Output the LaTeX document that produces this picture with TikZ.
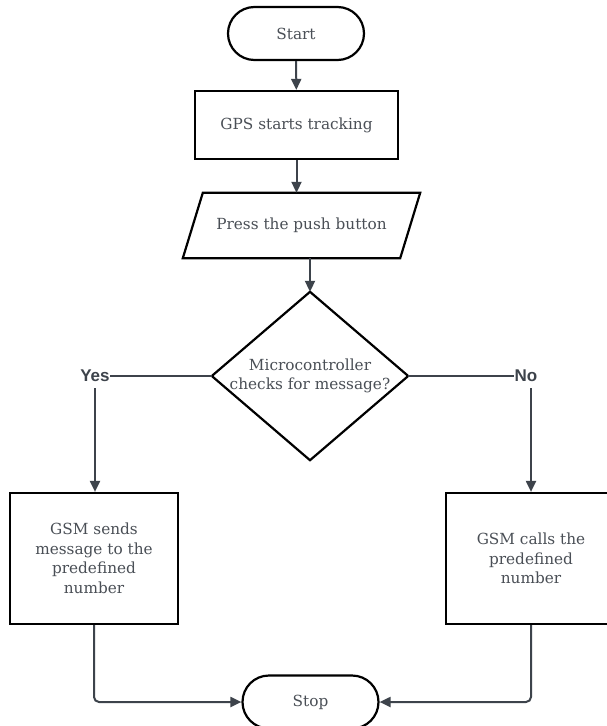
\documentclass[tikz,border=0pt]{standalone}
\usepackage{fontspec}
\setmainfont{DejaVu Serif}
\newfontfamily\labelfont{Liberation Sans}
\usetikzlibrary{arrows.meta,shapes.geometric,shapes.misc,calc}
\definecolor{txt}{HTML}{4A4F56}
\definecolor{conn}{HTML}{3D434B}
\tikzset{
  base/.style={font=\fontsize{15.3}{19.5}\selectfont, text=txt, align=center, inner sep=0pt},
  term/.style={base, draw=black, line width=2.2pt, rounded rectangle, minimum width=136pt, minimum height=53pt},
  procbox/.style={base, draw=black, line width=2.2pt, rectangle},
  outline/.style={draw=black, line width=2.2pt, line join=miter},
  lbl/.style={font=\labelfont\bfseries\fontsize{17}{19}\selectfont, text=conn, inner sep=0pt},
  conn/.style={draw=conn, line width=2pt},
  arr/.style={conn, -{Triangle[length=11pt,width=10pt]}}
}
\begin{document}
\begin{tikzpicture}[x=1pt,y=-1pt]
\useasboundingbox (0,0) rectangle (607,726);
\clip (0,0) rectangle (607,726);
\fill[white] (0,0) rectangle (607,726);

\node[term] (start) at (296,33.5) {Start};
\node[procbox, minimum width=203pt, minimum height=68pt] (gps) at (296.5,125) {GPS starts tracking};
\node[base, minimum width=197pt, minimum height=65pt] (para) at (301.5,225.5) {Press the push button};
\draw[outline]
  (para.north west) -- ([xshift=20pt]para.north east) -- (para.south east)
  -- ([xshift=-20pt]para.south west) -- cycle;
\node[base, minimum width=196pt, minimum height=168pt] (dec) at (310,376) {Microcontroller\\checks for message?};
\draw[outline] (dec.north) -- (dec.east) -- (dec.south) -- (dec.west) -- cycle;
\node[lbl] (yes) at (95,376) {Yes};
\node[lbl] (no) at (526,376) {No};
\coordinate (yesdrop) at (95,388);
\coordinate (nodrop) at (531,388);
\node[procbox, minimum width=168pt, minimum height=131pt] (sends) at (94,558.5) {GSM sends\\message to the\\predefined\\number};
\node[procbox, minimum width=170pt, minimum height=131pt] (calls) at (531,558.5) {GSM calls the\\predefined\\number};
\node[term] (stop) at (310.5,702) {Stop};

\draw[arr] (start) -- (gps);
\draw[arr] (gps.south) -- (gps.south |- para.north);
\draw[arr] (dec.north |- para.south) -- (dec.north);
\draw[conn] (dec.west) -- (yes.east);
\draw[conn] (dec.east) -- (no.west);
\draw[arr] (yesdrop) -- (yesdrop |- sends.north);
\draw[arr] (nodrop) -- (nodrop |- calls.north);
\draw[arr, rounded corners=5pt] (sends.south) |- (stop.west);
\draw[arr, rounded corners=5pt] (calls.south) |- (stop.east);
\end{tikzpicture}
\end{document}
